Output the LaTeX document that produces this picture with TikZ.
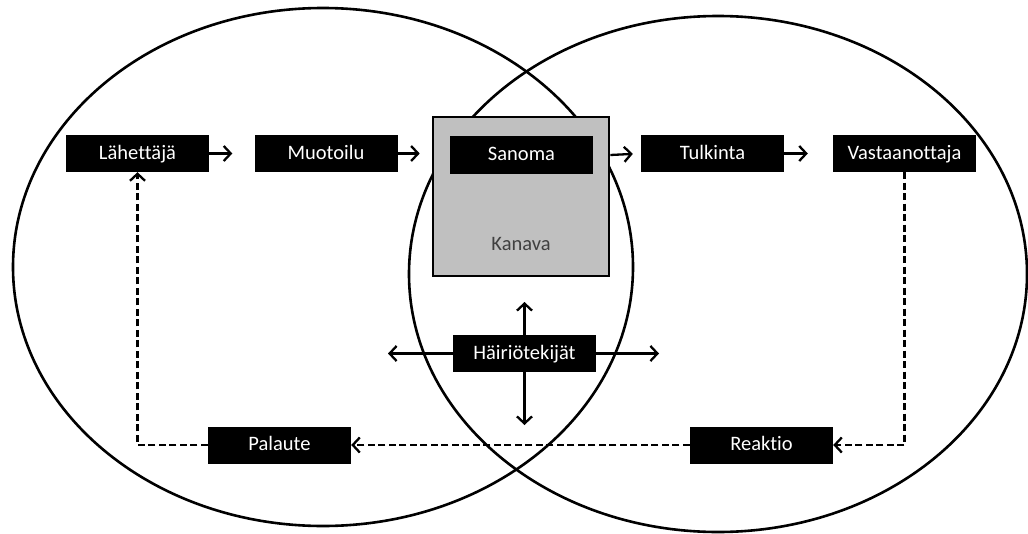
\documentclass[tikz,border=0pt]{standalone}
\usepackage{fontspec}
\setmainfont{Carlito}[Ligatures=NoCommon]
\usetikzlibrary{arrows.meta}
\begin{document}
\begin{tikzpicture}[x=1pt,y=-1pt,
  blk/.style={fill=black,text=white,minimum width=143pt,minimum height=37pt,inner sep=0pt,text height=13pt,text depth=2pt,font=\fontsize{20.5}{24}\selectfont},
  arr/.style={line width=2.3pt,-{Straight Barb[length=7pt,width=15pt,line width=2.3pt]}},
  darr/.style={arr,dash pattern=on 7pt off 3.5pt},
  ring/.style={line width=2.6pt}]
\useasboundingbox (0,0) rectangle (1028,533);
\draw[ring] (323,267) ellipse [x radius=310pt, y radius=259pt];
\draw[ring] (718,274) ellipse [x radius=309pt, y radius=258pt];
\node[draw=black,line width=2.6pt,fill={rgb,255:red,192;green,192;blue,192},minimum width=176pt,minimum height=159pt,inner sep=0pt] (kan) at (521,196.5) {};
\node[text={rgb,255:red,64;green,64;blue,64},font=\fontsize{20.5}{24}\selectfont] (kanl) at (521,244) {Kanava};
\node[blk] (lah) at (137.5,153.5) {Lähettäjä};
\node[blk] (muo) at (326,153.5) {Muotoilu};
\node[blk,minimum height=38pt] (san) at (521.5,155) {Sanoma};
\node[blk] (tul) at (712.5,153.5) {Tulkinta};
\node[blk] (vas) at (904.5,153.5) {Vastaanottaja};
\node[blk] (rea) at (761.5,445) {Reaktio};
\node[blk] (pal) at (279.5,445) {Palaute};
\node[blk] (hai) at (524.5,353.5) {Häiriötekijät};
\coordinate (hup) at (524.5,302);
\coordinate (hdn) at (524.5,425);
\coordinate (hlt) at (388,353.5);
\coordinate (hrt) at (659,353.5);
\draw[arr,shorten >=22pt] (lah.east) -- (muo.west);
\draw[arr,shorten >=12pt] (muo.east) -- (muo.east -| kan.west);
\draw[arr,shorten >=8pt] (kan.east |- san.east) -- (tul.west);
\draw[arr,shorten >=25pt] (tul.east) -- (vas.west);
\draw[darr] (vas.south) |- (rea.east);
\draw[darr] (rea.west) -- (pal.east);
\draw[darr] (pal.west) -| (lah.south);
\draw[arr] (hai.north) -- (hup);
\draw[arr] (hai.south) -- (hdn);
\draw[arr] (hai.west) -- (hlt);
\draw[arr] (hai.east) -- (hrt);
\end{tikzpicture}
\end{document}
